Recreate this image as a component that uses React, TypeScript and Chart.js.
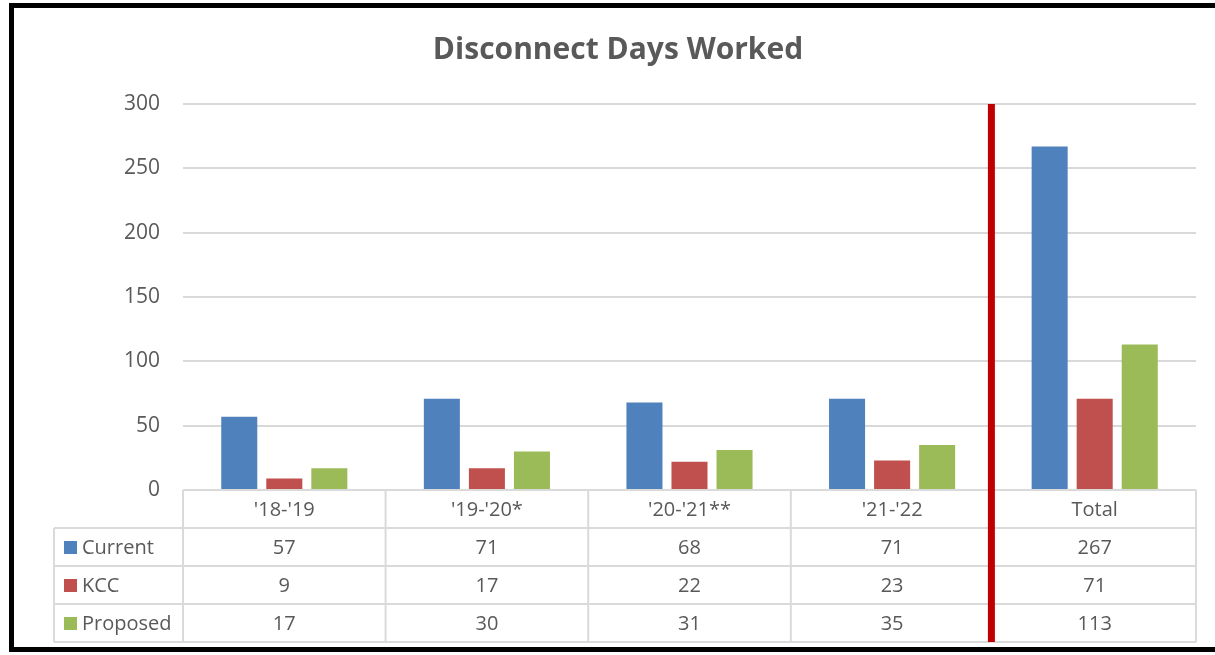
import React, { useEffect, useRef } from "react";
import { Chart, registerables } from "chart.js";

Chart.register(...registerables);

const title = "Disconnect Days Worked";
const categories = ["'18-'19", "'19-'20*", "'20-'21**", "'21-'22", "Total"];
const seriesNames = ["Current", "KCC", "Proposed"];
const currentValues = [57, 71, 68, 71, 267];
const kccValues = [9, 17, 22, 23, 71];
const proposedValues = [17, 30, 31, 35, 113];
const seriesColors = ["#4F81BD", "#C0504D", "#9BBB59"];
const yTicks = [0, 50, 100, 150, 200, 250, 300];

const TEXT = "#595959";
const FONT = "'Open Sans', sans-serif";

const tablePlugin = {
  id: "dataTable",
  afterDraw(chart: any) {
    const ctx = chart.ctx;
    const area = chart.chartArea;
    const xs = chart.scales.x;
    const n = categories.length;
    const cw = (area.right - area.left) / n;
    const rowH = 38;
    const top = area.bottom;
    const legendLeft = 54;
    const allValues = [currentValues, kccValues, proposedValues];

    ctx.save();
    // Title
    ctx.fillStyle = TEXT;
    ctx.font = `bold 30px ${FONT}`;
    ctx.textAlign = "center";
    ctx.textBaseline = "middle";
    ctx.fillText(title, 618, 50);

    // Table grid
    ctx.strokeStyle = "#dadada";
    ctx.lineWidth = 2;
    const bottom = top + rowH * 4;
    ctx.beginPath();
    ctx.moveTo(area.left, top);
    ctx.lineTo(area.right, top);
    for (let r = 1; r <= 4; r++) {
      ctx.moveTo(legendLeft, top + rowH * r);
      ctx.lineTo(area.right, top + rowH * r);
    }
    ctx.moveTo(legendLeft, top + rowH);
    ctx.lineTo(legendLeft, bottom);
    for (let i = 0; i <= n; i++) {
      const bx = area.left + i * cw;
      ctx.moveTo(bx, top);
      ctx.lineTo(bx, bottom);
    }
    ctx.stroke();

    // Header texts
    ctx.fillStyle = TEXT;
    ctx.font = `20px ${FONT}`;
    ctx.textAlign = "center";
    ctx.textBaseline = "middle";
    categories.forEach((c, i) => {
      ctx.fillText(c, xs.getPixelForValue(i), top + rowH / 2 + 1);
    });

    // Series rows
    seriesNames.forEach((name, s) => {
      const cy = top + rowH * (s + 1) + rowH / 2;
      ctx.fillStyle = seriesColors[s];
      ctx.fillRect(legendLeft + 10, cy - 6, 13, 13);
      ctx.fillStyle = TEXT;
      ctx.textAlign = "left";
      ctx.fillText(name, legendLeft + 28, cy + 1);
      ctx.textAlign = "center";
      allValues[s].forEach((v, i) => {
        ctx.fillText(String(v), xs.getPixelForValue(i), cy + 1);
      });
    });

    // Red separator between last period and Total
    const sepX = (xs.getPixelForValue(n - 2) + xs.getPixelForValue(n - 1)) / 2;
    ctx.strokeStyle = "#C00000";
    ctx.lineWidth = 7;
    ctx.beginPath();
    ctx.moveTo(sepX - 2, area.top);
    ctx.lineTo(sepX - 2, bottom);
    ctx.stroke();
    ctx.restore();
  },
};

export default function App() {
  const ref = useRef<HTMLCanvasElement>(null);
  useEffect(() => {
    if (!ref.current) return;
    const chart = new Chart(ref.current, {
      type: "bar",
      data: {
        labels: categories,
        datasets: [
          { label: seriesNames[0], data: currentValues, backgroundColor: seriesColors[0] },
          { label: seriesNames[1], data: kccValues, backgroundColor: seriesColors[1] },
          { label: seriesNames[2], data: proposedValues, backgroundColor: seriesColors[2] },
        ],
      },
      options: {
        animation: false,
        responsive: false,
        devicePixelRatio: 1,
        layout: { padding: { top: 104, right: 19, bottom: 165, left: 0 } },
        datasets: { bar: { categoryPercentage: 0.667, barPercentage: 0.8 } },
        plugins: { legend: { display: false }, title: { display: false }, tooltip: { enabled: false } },
        scales: {
          x: { display: false },
          y: {
            min: 0,
            max: 300,
            afterFit: (s: any) => { s.width = 183; },
            afterBuildTicks: (s: any) => { s.ticks = yTicks.map((v) => ({ value: v })); },
            grid: { color: "#d9d9d9", lineWidth: 2, drawTicks: false },
            border: { display: false },
            ticks: { color: TEXT, padding: 23, font: { family: FONT, size: 21 } },
          },
        },
      },
      plugins: [tablePlugin],
    });
    return () => chart.destroy();
  }, []);

  return (
    <div style={{ position: "fixed", left: 0, top: 0, width: 1215, height: 655, overflow: "hidden", background: "#fff" }}>
      <canvas ref={ref} width={1215} height={655} style={{ position: "absolute", left: 0, top: 0 }} />
      <div style={{ position: "absolute", left: 9, top: 3, width: 1400, height: 649, border: "5px solid #000", boxSizing: "border-box", pointerEvents: "none" }} />
    </div>
  );
}
